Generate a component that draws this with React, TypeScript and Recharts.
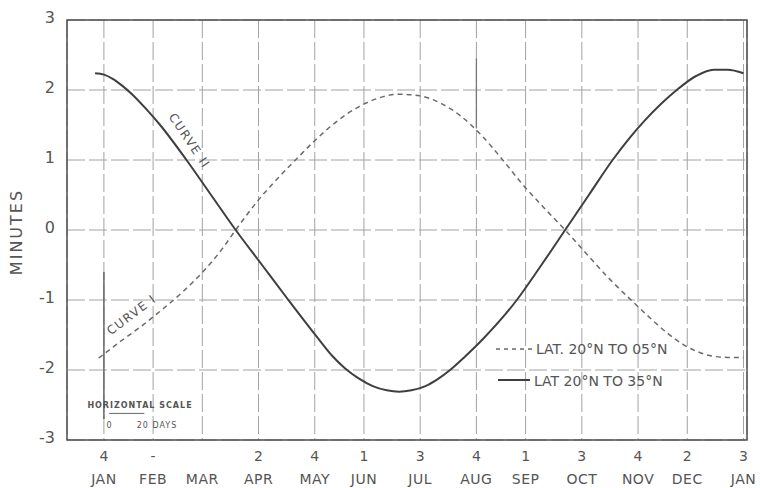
import { LineChart, Line, XAxis, YAxis, CartesianGrid, ReferenceArea, ReferenceLine } from 'recharts';

// day of year (0 = Jan 1)
const CURVE1_DAYS = [0, 12, 24, 36, 48, 60, 70, 78, 90, 102, 112, 124, 136, 148, 160, 171, 182, 194, 206, 218, 230, 241, 253, 265.5, 278, 290, 303, 314, 324, 333, 341, 349, 358, 367];
const CURVE1_VALUES = [-1.83, -1.6, -1.38, -1.14, -0.88, -0.58, -0.28, 0, 0.4, 0.74, 1.0, 1.3, 1.56, 1.76, 1.89, 1.94, 1.92, 1.82, 1.63, 1.35, 1.0, 0.66, 0.33, 0, -0.35, -0.68, -1.0, -1.26, -1.48, -1.64, -1.74, -1.8, -1.82, -1.82];

const CURVE2_DAYS = [-2, 3, 8, 13, 19, 27, 35, 50, 64, 78, 93, 108, 124, 133, 140, 148, 156, 164, 171, 178, 186, 193, 200, 208, 219, 238, 252, 265.5, 279, 292.5, 302, 311, 320, 329, 340, 350, 358, 367];
const CURVE2_VALUES = [2.24, 2.22, 2.16, 2.07, 1.94, 1.73, 1.5, 1.0, 0.5, 0, -0.5, -1.0, -1.52, -1.8, -1.97, -2.12, -2.23, -2.29, -2.31, -2.29, -2.23, -2.13, -2.0, -1.82, -1.55, -1.0, -0.5, 0, 0.5, 1.0, 1.31, 1.57, 1.8, 2.0, 2.2, 2.29, 2.29, 2.24];

const TICK_DAYS = [3, 31, 59, 91, 123, 151, 183, 215, 243, 275, 307, 335, 367];
const TICK_NUMBERS = ['4', '-', '', '2', '4', '1', '3', '4', '1', '3', '4', '2', '3'];
const MONTHS = ['JAN', 'FEB', 'MAR', 'APR', 'MAY', 'JUN', 'JUL', 'AUG', 'SEP', 'OCT', 'NOV', 'DEC', 'JAN'];
const Y_TICKS = [-3, -2, -1, 0, 1, 2, 3];

const curve1 = CURVE1_DAYS.map((d, i) => ({ day: d, value: CURVE1_VALUES[i] }));
const curve2 = CURVE2_DAYS.map((d, i) => ({ day: d, value: CURVE2_VALUES[i] }));

const INK = '#555555';
const FONT = '"DejaVu Sans", sans-serif';

function MonthTick({ x, payload }: any) {
  const i = TICK_DAYS.indexOf(payload.value);
  return (
    <g fontFamily={FONT} fill={INK}>
      <text x={x} y={461} textAnchor="middle" fontSize={14}>{TICK_NUMBERS[i]}</text>
      <text x={x} y={484} textAnchor="middle" fontSize={14} letterSpacing={0.5}>{MONTHS[i]}</text>
    </g>
  );
}

function ValueTick({ x, y, payload }: any) {
  return (
    <text x={x} y={y + 3} textAnchor="end" fontSize={16} fontFamily={FONT} fill={INK}>
      {payload.value}
    </text>
  );
}

export default function App() {
  return (
    <div style={{ position: 'absolute', left: 0, top: 0, width: 760, height: 488, background: '#fff' }}>
      <LineChart width={760} height={488} margin={{ top: 20, right: 13, bottom: 0, left: 0 }}>
        <CartesianGrid stroke="#a2a2a2" strokeDasharray="18 4" strokeWidth={1} />
        <XAxis
          type="number"
          dataKey="day"
          domain={[-18, 369]}
          ticks={TICK_DAYS}
          allowDataOverflow
          height={48}
          axisLine={false}
          tickLine={false}
          tick={<MonthTick />}
          interval={0}
        />
        <YAxis
          type="number"
          domain={[-3, 3]}
          ticks={Y_TICKS}
          width={67}
          axisLine={false}
          tickLine={false}
          tickMargin={6}
          tick={<ValueTick />}
          interval={0}
        />
        <ReferenceArea x1={-18} x2={369} y1={-3} y2={3} fill="none" fillOpacity={0} stroke="#4d4d4d" strokeWidth={1.5} />
        <ReferenceLine segment={[{ x: 3, y: -0.6 }, { x: 3, y: -2.7 }]} stroke="#666" strokeWidth={1.5} />
        <ReferenceLine segment={[{ x: 215, y: 2.45 }, { x: 215, y: 1.45 }]} stroke="#777" strokeWidth={1.3} />
        <ReferenceLine segment={[{ x: 6, y: -2.62 }, { x: 26, y: -2.62 }]} stroke="#666" strokeWidth={1} />
        <Line
          data={curve1}
          dataKey="value"
          type="monotone"
          stroke="#6a6a6a"
          strokeWidth={1.5}
          strokeDasharray="5 4"
          dot={false}
          isAnimationActive={false}
        />
        <Line
          data={curve2}
          dataKey="value"
          type="monotone"
          stroke="#3f3f3f"
          strokeWidth={2}
          dot={false}
          isAnimationActive={false}
        />
      </LineChart>
      <svg
        width={760}
        height={488}
        style={{ position: 'absolute', left: 0, top: 0, pointerEvents: 'none' }}
        fontFamily={FONT}
        fill={INK}
      >
        <text x={22} y={232} transform="rotate(-90 22 232)" textAnchor="middle" fontSize={16} letterSpacing={2}>
          MINUTES
        </text>
        <text x={186} y={143} transform="rotate(56 186 143)" textAnchor="middle" fontSize={12} letterSpacing={1.5}>
          CURVE II
        </text>
        <text x={134} y={318} transform="rotate(-37 134 318)" textAnchor="middle" fontSize={12} letterSpacing={1.5}>
          CURVE I
        </text>
        <text x={140} y={408} textAnchor="middle" fontSize={8} fontWeight="bold" letterSpacing={1}>
          HORIZONTAL SCALE
        </text>
        <text x={109} y={428} textAnchor="middle" fontSize={8}>0</text>
        <text x={157} y={428} textAnchor="middle" fontSize={8} letterSpacing={1}>20 DAYS</text>
        <line x1={496} y1={349} x2={532} y2={349} stroke="#6a6a6a" strokeWidth={1.5} strokeDasharray="4 4" />
        <text x={536} y={354} fontSize={14}>LAT. 20°N TO 05°N</text>
        <line x1={498} y1={380} x2={530} y2={380} stroke="#3f3f3f" strokeWidth={2} />
        <text x={534} y={386} fontSize={14}>LAT 20°N TO 35°N</text>
      </svg>
    </div>
  );
}
